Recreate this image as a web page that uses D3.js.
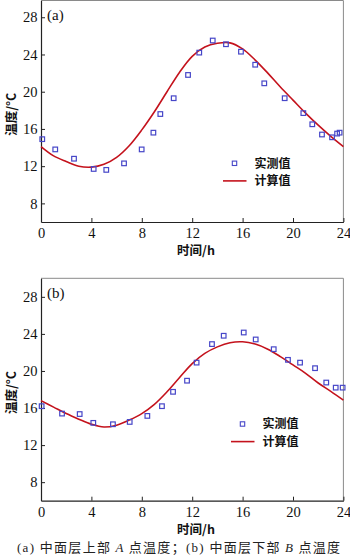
<!DOCTYPE html>
<html><head><meta charset="utf-8">
<script src="https://cdn.jsdelivr.net/npm/d3@7"></script>
<style>
html,body{margin:0;padding:0;background:#fff;}
svg{display:block;}
</style></head>
<body>
<svg id="c" width="350" height="558"></svg>
<script>
// ---- data ----
const xTicks = [0, 4, 8, 12, 16, 20, 24];
const yTicks = [8, 12, 16, 20, 24, 28];
const legendLabels = ["实测值", "计算值"];
const panelLabels = ["(a)", "(b)"];
const xTitle = "时间/h";
const yTitle = "温度/°C";

const hoursA = [0.1, 1.13, 2.62, 4.18, 5.18, 6.59, 7.99, 8.92, 9.47, 10.53, 11.67, 12.56, 13.63, 14.68, 15.87, 17.0, 17.72, 19.34, 20.82, 21.53, 22.3, 23.1, 23.5, 23.7];
const measA = [14.9, 13.8, 12.8, 11.7, 11.6, 12.3, 13.8, 15.6, 17.6, 19.3, 21.8, 24.2, 25.5, 25.1, 24.3, 22.9, 20.9, 19.3, 17.7, 16.5, 15.4, 15.1, 15.5, 15.6];
const calcHours = [0,1,2,3,4,5,6,7,8,9,10,11,12,13,14,15,16,17,18,19,20,21,22,23,24];
const calcA = [14.1, 13.1, 12.5, 12.0, 11.9, 12.2, 12.95, 14.2, 15.9, 17.85, 20.0, 22.1, 23.8, 24.8, 25.2, 25.25, 24.6, 23.4, 22.0, 20.5, 19.1, 17.7, 16.4, 15.2, 14.1];

const hoursB = [0.05, 1.67, 3.07, 4.15, 5.71, 7.04, 8.44, 9.6, 10.48, 11.59, 12.35, 13.57, 14.5, 16.09, 17.04, 18.47, 19.6, 20.56, 21.75, 22.64, 23.39, 23.94];
const measB = [16.2, 15.4, 15.35, 14.4, 14.25, 14.5, 15.15, 16.2, 17.75, 18.95, 20.9, 22.9, 23.8, 24.15, 23.4, 22.35, 21.2, 20.9, 20.3, 18.75, 18.2, 18.2];
const calcB = [16.8, 16.1, 15.4, 14.8, 14.25, 13.95, 14.15, 14.7, 15.4, 16.4, 17.75, 19.3, 20.8, 21.9, 22.6, 23.05, 23.15, 22.9, 22.35, 21.55, 20.65, 19.75, 18.7, 17.8, 16.85];

// ---- drawing ----
const svg = d3.select("#c");
const serif = "'Liberation Serif','Times New Roman',serif";
const cjk = "'Noto Sans CJK SC','Noto Sans',sans-serif";
const blue = "#4646c8", red = "#c4121c";

function panel(opt) {
  const x = d3.scaleLinear().domain([0, 24]).range([41, 343.4]);
  const y = d3.scaleLinear().domain(opt.yDomain).range([opt.bottom, opt.top]);
  const g = svg.append("g");

  // frame top/right (gray)
  g.append("path")
    .attr("d", `M${x(0)},${y(opt.yDomain[1])}H${x(24)}V${y(opt.yDomain[0])}`)
    .attr("fill", "none").attr("stroke", "#8a8a8a").attr("stroke-width", 1);

  // axes
  const ya = g.append("g").attr("transform", `translate(${x(0)},0)`)
    .call(d3.axisLeft(y).tickValues(yTicks).tickSizeInner(-4).tickSizeOuter(0).tickPadding(3.5));
  const xa = g.append("g").attr("transform", `translate(0,${y(opt.yDomain[0])})`)
    .call(d3.axisBottom(x).tickValues(xTicks).tickSizeInner(-4).tickSizeOuter(0).tickPadding(6));
  [ya, xa].forEach(a => {
    a.select(".domain").attr("stroke", "#222").attr("stroke-width", 1.2);
    a.selectAll(".tick line").attr("stroke", "#222");
    a.selectAll(".tick text").attr("font-family", serif).attr("font-size", 14.5).attr("fill", "#111");
  });

  // calculated line
  const line = d3.line().x((d, i) => x(calcHours[i])).y(d => y(d)).curve(d3.curveCatmullRom);
  g.append("path").datum(opt.calc).attr("d", line)
    .attr("fill", "none").attr("stroke", red).attr("stroke-width", 1.6);

  // measured squares
  const s = 4.6;
  g.selectAll("rect.m").data(opt.meas).join("rect").attr("class", "m")
    .attr("x", (d, i) => x(opt.hours[i]) - s / 2).attr("y", d => y(d) - s / 2)
    .attr("width", s).attr("height", s)
    .attr("fill", "none").attr("stroke", blue).attr("stroke-width", 1.2);

  // panel label
  g.append("text").attr("x", 47).attr("y", y(opt.yDomain[1]) + 19.5)
    .attr("font-family", serif).attr("font-size", 15).attr("fill", "#111").text(opt.label);

  // legend
  const lx = opt.legX, ly1 = opt.legY - 1, ly2 = opt.legY + 16.6;
  g.append("rect").attr("x", lx + 11.5 - 2.2).attr("y", ly1 - 2.2).attr("width", 4.4).attr("height", 4.4)
    .attr("fill", "none").attr("stroke", blue).attr("stroke-width", 1.1);
  g.append("line").attr("x1", lx).attr("x2", lx + 23.5).attr("y1", ly2).attr("y2", ly2)
    .attr("stroke", red).attr("stroke-width", 1.6);
  g.append("text").attr("x", lx + 31.5).attr("y", ly1 + 4.3)
    .attr("font-family", cjk).attr("font-weight", "bold").attr("font-size", 12).attr("fill", "#111").text(legendLabels[0]);
  g.append("text").attr("x", lx + 31.5).attr("y", ly2 + 4.3)
    .attr("font-family", cjk).attr("font-weight", "bold").attr("font-size", 12).attr("fill", "#111").text(legendLabels[1]);

  // axis titles
  g.append("text").attr("x", 196).attr("y", y(opt.yDomain[0]) + 33)
    .attr("text-anchor", "middle").attr("font-family", cjk).attr("font-weight", "bold")
    .attr("font-size", 12.5).attr("fill", "#111").text(xTitle);
  const cy = (opt.top + opt.bottom) / 2 + 3;
  g.append("text").attr("transform", `translate(16,${cy}) rotate(-90)`)
    .attr("text-anchor", "middle").attr("font-family", cjk).attr("font-weight", "bold")
    .attr("font-size", 12.5).attr("fill", "#111").text(yTitle);
}

panel({ top: 0.5, bottom: 222, yDomain: [6, 29.8], hours: hoursA, meas: measA, calc: calcA, label: panelLabels[0], legX: 223, legY: 164.3 });
panel({ top: 278.3, bottom: 500.7, yDomain: [6, 30], hours: hoursB, meas: measB, calc: calcB, label: panelLabels[1], legX: 231, legY: 425 });

// caption
const cap = svg.append("text").attr("x", 17).attr("y", 551.5)
  .attr("font-family", cjk).attr("font-size", 13).attr("fill", "#222")
  .attr("textLength", 323).attr("lengthAdjust", "spacing");
cap.append("tspan").attr("font-family", serif).text("(a) ");
cap.append("tspan").text("中面层上部 ");
cap.append("tspan").attr("font-family", serif).attr("font-style", "italic").text("A");
cap.append("tspan").text(" 点温度；");
cap.append("tspan").attr("font-family", serif).text("(b) ");
cap.append("tspan").text("中面层下部 ");
cap.append("tspan").attr("font-family", serif).attr("font-style", "italic").text("B");
cap.append("tspan").text(" 点温度");
</script>
</body></html>
